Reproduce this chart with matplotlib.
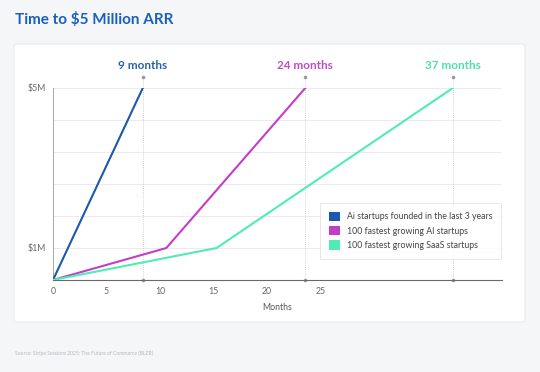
import numpy as np
import matplotlib
matplotlib.use("Agg")
import matplotlib.pyplot as plt
from matplotlib.patches import FancyBboxPatch, Patch
from matplotlib.transforms import blended_transform_factory

plt.rcParams['font.family'] = ['Lato', 'DejaVu Sans']

# data (months, $M)
series_names = ["Ai startups founded in the last 3 years",
                "100 fastest growing AI startups",
                "100 fastest growing SaaS startups"]
ai_recent_x = [0, 8.4]
ai_recent_y = [0, 5]
ai_top_x = [0, 10.6, 23.6]
ai_top_y = [0, 1, 5]
saas_top_x = [0, 15.3, 37.4]
saas_top_y = [0, 1, 5]
milestone_labels = ["9 months", "24 months", "37 months"]
x_ticks = [0, 5, 10, 15, 20, 25]
y_ticks = [0, 1, 1.8, 2.6, 3.4, 4.2, 5]
y_labels = ["", "$1M", "", "", "", "", "$5M"]

colors = ["#1c58ad", "#c43dc8", "#4fecb4"]
label_colors = ["#2a64a6", "#c24cc6", "#4fe0b0"]

fig = plt.figure(figsize=(5.4, 3.72), dpi=100)
fig.patch.set_facecolor("#f4f6f7")

# white card behind the axes
card = FancyBboxPatch((14 / 540, 1 - 322 / 372), 511 / 540, 278 / 372,
                      boxstyle="round,pad=0,rounding_size=0.006",
                      transform=fig.transFigure, facecolor="white",
                      edgecolor="#e4e7e9", linewidth=0.6, zorder=-5)
fig.patches.append(card)

fig.text(15 / 540, 1 - 20 / 372, "Time to $5 Million ARR", fontsize=11,
         fontweight="bold", color="#1a5fbf", va="center", ha="left")
fig.text(15 / 540, 1 - 353 / 372,
         "Source: Stripe Sessions 2025: The Future of Commerce (BLZR)",
         fontsize=3.6, color="#b5babd", va="center", ha="left")

ax = fig.add_axes([53 / 540, 1 - 280 / 372, 449 / 540, 192 / 372])
ax.set_facecolor("none")
ax.set_zorder(2)


def fwd(v):
    return np.interp(v, [0, 1, 5], [0, 1, 6])


def inv(v):
    return np.interp(v, [0, 1, 6], [0, 1, 5])


ax.set_yscale("function", functions=(fwd, inv))
ax.set_xlim(0, 42)
ax.set_ylim(0, 5)
ax.set_xticks(x_ticks)
ax.set_yticks(y_ticks)
ax.set_yticklabels(y_labels)
ax.tick_params(length=0, labelsize=6.3, colors="#666666", pad=5)
ax.grid(axis="y", color="#e8e8e8", linewidth=0.6)
ax.set_axisbelow(True)
for s in ["top", "right"]:
    ax.spines[s].set_visible(False)
ax.spines["left"].set_color("#a8a8a8")
ax.spines["left"].set_linewidth(0.7)
ax.spines["bottom"].set_color("#6a6a6a")
ax.spines["bottom"].set_linewidth(0.8)
ax.set_xlabel("Months", fontsize=6.3, color="#555555", labelpad=5)

xs = [ai_recent_x, ai_top_x, saas_top_x]
ys = [ai_recent_y, ai_top_y, saas_top_y]
trans = blended_transform_factory(ax.transData, ax.transAxes)
for x, y, c, lc, lab in zip(xs, ys, colors, label_colors, milestone_labels):
    ax.plot(x, y, color=c, linewidth=1.5, zorder=3, solid_capstyle="round")
    end = x[-1]
    ax.plot([end, end], [0, 1.057], transform=trans, color="#c4c4c4",
            linewidth=0.6, linestyle=(0, (1, 1.5)), clip_on=False, zorder=2)
    ax.plot([end, end], [0, 1.057], transform=trans, linestyle="none",
            marker="o", markersize=1.6, color="#9a9a9a", clip_on=False, zorder=2)
    ax.text(end, 1.115, lab, transform=trans, ha="center", va="center",
            fontsize=8.5, fontweight="bold", color=lc)

handles = [Patch(facecolor=c, edgecolor="none") for c in colors]
leg = ax.legend(handles, series_names, loc="lower left",
                bbox_to_anchor=(0.585, 0.088), fontsize=6.3, frameon=True,
                fancybox=False, handlelength=1.25, handleheight=1.25,
                handletextpad=0.8, borderpad=1.0, labelspacing=0.55,
                labelcolor="#444444")
leg.get_frame().set_edgecolor("#dddddd")
leg.get_frame().set_linewidth(0.6)

fig.savefig("out.png", dpi=100, facecolor=fig.get_facecolor())
